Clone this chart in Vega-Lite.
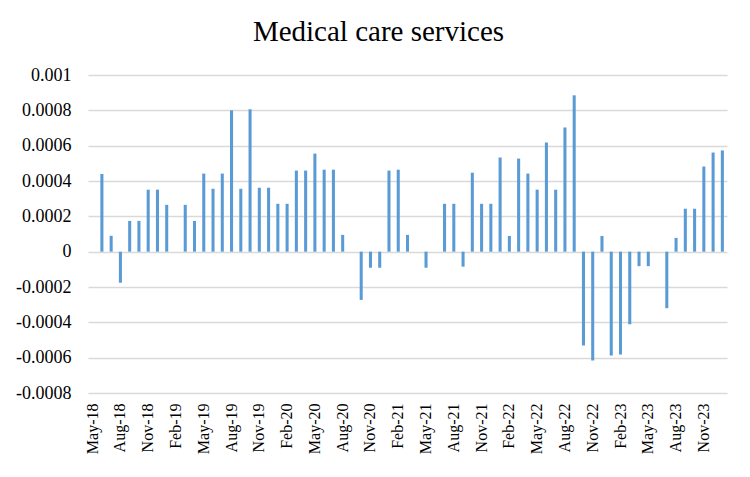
{
  "$schema": "https://vega.github.io/schema/vega-lite/v6.json",
  "width": 639,
  "height": 318,
  "autosize": {"type": "none"},
  "padding": {"left": 88, "top": 75, "right": 23, "bottom": 84},
  "background": "white",
  "title": {"text": "Medical care services", "font": "Liberation Serif", "fontSize": 29, "fontWeight": "normal", "color": "#000000", "anchor": "middle", "dx": -29, "offset": 19},
  "config": {"view": {"stroke": null}, "axis": {"labelFont": "Liberation Serif"}},
  "data": {"values": [
    {"month": "May-18", "value": 0},
    {"month": "Jun-18", "value": 0.00044},
    {"month": "Jul-18", "value": 0.00009},
    {"month": "Aug-18", "value": -0.000176},
    {"month": "Sep-18", "value": 0.000174},
    {"month": "Oct-18", "value": 0.000174},
    {"month": "Nov-18", "value": 0.000351},
    {"month": "Dec-18", "value": 0.000351},
    {"month": "Jan-19", "value": 0.000265},
    {"month": "Feb-19", "value": 0},
    {"month": "Mar-19", "value": 0.000265},
    {"month": "Apr-19", "value": 0.000174},
    {"month": "May-19", "value": 0.000442},
    {"month": "Jun-19", "value": 0.000356},
    {"month": "Jul-19", "value": 0.000442},
    {"month": "Aug-19", "value": 0.0008},
    {"month": "Sep-19", "value": 0.000356},
    {"month": "Oct-19", "value": 0.000806},
    {"month": "Nov-19", "value": 0.000362},
    {"month": "Dec-19", "value": 0.000362},
    {"month": "Jan-20", "value": 0.000271},
    {"month": "Feb-20", "value": 0.000271},
    {"month": "Mar-20", "value": 0.000459},
    {"month": "Apr-20", "value": 0.000459},
    {"month": "May-20", "value": 0.000555},
    {"month": "Jun-20", "value": 0.000464},
    {"month": "Jul-20", "value": 0.000464},
    {"month": "Aug-20", "value": 0.000095},
    {"month": "Sep-20", "value": 0},
    {"month": "Oct-20", "value": -0.000273},
    {"month": "Nov-20", "value": -0.000091},
    {"month": "Dec-20", "value": -0.000091},
    {"month": "Jan-21", "value": 0.000459},
    {"month": "Feb-21", "value": 0.000464},
    {"month": "Mar-21", "value": 0.000095},
    {"month": "Apr-21", "value": 0},
    {"month": "May-21", "value": -0.000091},
    {"month": "Jun-21", "value": 0},
    {"month": "Jul-21", "value": 0.000271},
    {"month": "Aug-21", "value": 0.000271},
    {"month": "Sep-21", "value": -0.000085},
    {"month": "Oct-21", "value": 0.000447},
    {"month": "Nov-21", "value": 0.000271},
    {"month": "Dec-21", "value": 0.000271},
    {"month": "Jan-22", "value": 0.000533},
    {"month": "Feb-22", "value": 0.000089},
    {"month": "Mar-22", "value": 0.000527},
    {"month": "Apr-22", "value": 0.000442},
    {"month": "May-22", "value": 0.000351},
    {"month": "Jun-22", "value": 0.000618},
    {"month": "Jul-22", "value": 0.000351},
    {"month": "Aug-22", "value": 0.000703},
    {"month": "Sep-22", "value": 0.000885},
    {"month": "Oct-22", "value": -0.000531},
    {"month": "Nov-22", "value": -0.000616},
    {"month": "Dec-22", "value": 0.000089},
    {"month": "Jan-23", "value": -0.000588},
    {"month": "Feb-23", "value": -0.000582},
    {"month": "Mar-23", "value": -0.000411},
    {"month": "Apr-23", "value": -0.000082},
    {"month": "May-23", "value": -0.000082},
    {"month": "Jun-23", "value": 0},
    {"month": "Jul-23", "value": -0.00032},
    {"month": "Aug-23", "value": 0.000078},
    {"month": "Sep-23", "value": 0.000243},
    {"month": "Oct-23", "value": 0.000243},
    {"month": "Nov-23", "value": 0.000482},
    {"month": "Dec-23", "value": 0.000561},
    {"month": "Jan-24", "value": 0.000573}
  ]},
  "mark": {"type": "bar", "color": "#5B9BD5"},
  "encoding": {
    "x": {
      "field": "month", "type": "ordinal", "sort": null,
      "scale": {"paddingInner": 0.67, "paddingOuter": 0.335},
      "axis": {
        "title": null,
        "values": ["May-18","Aug-18","Nov-18","Feb-19","May-19","Aug-19","Nov-19","Feb-20","May-20","Aug-20","Nov-20","Feb-21","May-21","Aug-21","Nov-21","Feb-22","May-22","Aug-22","Nov-22","Feb-23","May-23","Aug-23","Nov-23"],
        "labelAngle": -90, "labelAlign": "right", "labelBaseline": "middle",
        "labelFont": "Liberation Serif", "labelFontSize": 16, "labelColor": "#000000",
        "labelPadding": 10, "ticks": false, "domain": false, "grid": false
      }
    },
    "y": {
      "field": "value", "type": "quantitative",
      "scale": {"domain": [-0.0008, 0.001], "nice": false, "zero": false},
      "axis": {
        "title": null,
        "values": [-0.0008, -0.0006, -0.0004, -0.0002, 0, 0.0002, 0.0004, 0.0006, 0.0008, 0.001],
        "labelExpr": "datum.value == 0 ? '0' : replace(format(datum.value, '~g'), '\u2212', '-')",
        "labelFont": "Liberation Serif", "labelFontSize": 18, "labelColor": "#000000",
        "labelPadding": 17, "ticks": false, "domain": false,
        "grid": true, "gridColor": "#d9d9d9", "gridWidth": 1.3
      }
    }
  }
}
